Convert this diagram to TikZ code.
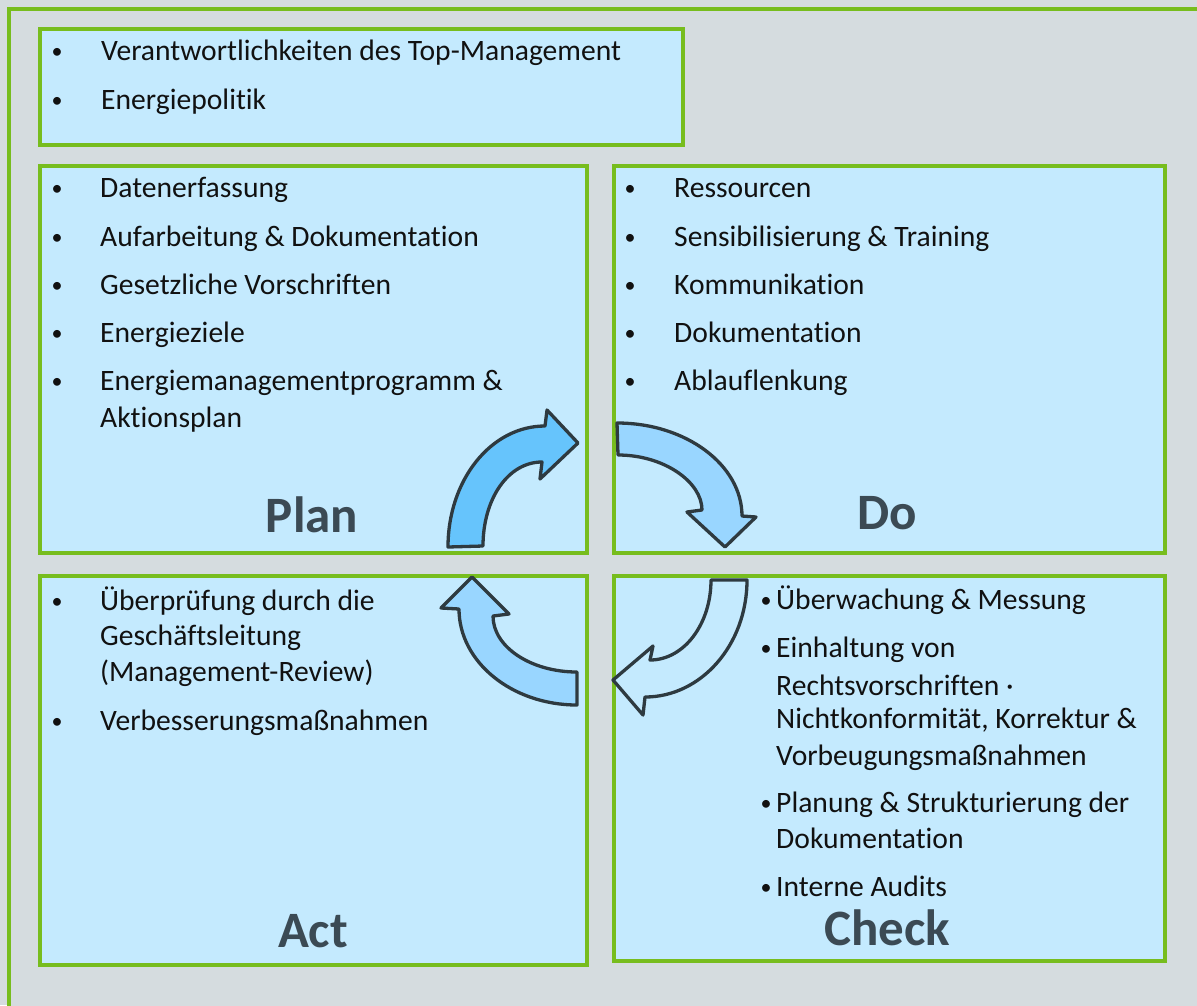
\documentclass[tikz,border=0pt]{standalone}
\usepackage{fontspec}
\setmainfont{Carlito}[Ligatures=NoCommon]
\definecolor{bggrey}{HTML}{D5DCDF}
\definecolor{boxgreen}{HTML}{77BD1E}
\definecolor{boxblue}{HTML}{C4EAFE}
\definecolor{arrowdark}{HTML}{66C4FC}
\definecolor{arrowlight}{HTML}{99D6FF}
\definecolor{arrowline}{HTML}{2E3A40}
\definecolor{headcol}{HTML}{3B4A54}
\definecolor{txtcol}{HTML}{111111}
\begin{document}
\begin{tikzpicture}[x=1pt,y=-1pt,
  panel/.style={draw=boxgreen, fill=boxblue, line width=4pt, anchor=north west, inner sep=0pt},
  itm/.style={anchor=base west, inner sep=0pt, text=txtcol, font=\fontsize{29.6}{34}\selectfont},
  bul/.style={anchor=base, inner sep=0pt, text=txtcol, font=\fontsize{22}{26}\selectfont},
  head/.style={anchor=base, inner sep=0pt, text=headcol, font=\fontsize{51}{60}\selectfont\bfseries},
  cyc/.style={draw=arrowline, line width=3.3pt, line join=round}]
\clip (0,0) rectangle (1197,1005);
\fill[bggrey] (0,0) rectangle (1197,1005);
\node (frame) [draw=boxgreen, fill=bggrey, line width=4pt, anchor=north west, inner sep=0pt, minimum width=1260pt, minimum height=1060pt] at (7,7) {};

% panels
\node (top)   [panel, minimum width=643pt, minimum height=116pt] at (38,27) {};
\node (plan)  [panel, minimum width=547pt, minimum height=387pt] at (38,164) {};
\node (do)    [panel, minimum width=551pt, minimum height=387pt] at (612,164) {};
\node (act)   [panel, minimum width=547pt, minimum height=389pt] at (38,574) {};
\node (check) [panel, minimum width=551pt, minimum height=385pt] at (612,574) {};

% top box
\node (tb1) [bul] at (57,58) {•};
\node (tt1) [itm] at (101,60) {Verantwortlichkeiten des Top-Management};
\node (tb2) [bul] at (57,107) {•};
\node (tt2) [itm] at (101,109) {Energiepolitik};

% plan
\node (pb1) [bul] at (57,195) {•};
\node (pt1) [itm] at (100,197) {Datenerfassung};
\node (pb2) [bul] at (57,244) {•};
\node (pt2) [itm] at (100,246) {Aufarbeitung \& Dokumentation};
\node (pb3) [bul] at (57,292) {•};
\node (pt3) [itm] at (100,294) {Gesetzliche Vorschriften};
\node (pb4) [bul] at (57,340) {•};
\node (pt4) [itm] at (100,342) {Energieziele};
\node (pb5) [bul] at (57,388) {•};
\node (pt5) [itm] at (100,390) {Energiemanagementprogramm \&};
\node (pt6) [itm] at (100,427) {Aktionsplan};
\node (plh) [head] at (312,532) {Plan};

% do
\node (db1) [bul] at (630,195) {•};
\node (dt1) [itm] at (674,197) {Ressourcen};
\node (db2) [bul] at (630,244) {•};
\node (dt2) [itm] at (674,246) {Sensibilisierung \& Training};
\node (db3) [bul] at (630,292) {•};
\node (dt3) [itm] at (674,294) {Kommunikation};
\node (db4) [bul] at (630,340) {•};
\node (dt4) [itm] at (674,342) {Dokumentation};
\node (db5) [bul] at (630,388) {•};
\node (dt5) [itm] at (674,390) {Ablauflenkung};
\node (doh) [head] at (887,529) {Do};

% act
\node (ab1) [bul] at (57,608) {•};
\node (at1) [itm] at (100,610) {Überprüfung durch die};
\node (at2) [itm] at (100,645) {Geschäftsleitung};
\node (at3) [itm] at (100,681) {(Management-Review)};
\node (ab2) [bul] at (57,728) {•};
\node (at4) [itm] at (100,730) {Verbesserungsmaßnahmen};
\node (ach) [head] at (313,947) {Act};

% check
\node (cb1) [bul] at (766,607) {•};
\node (ct1) [itm] at (776,609) {Überwachung \& Messung};
\node (cb2) [bul] at (766,655) {•};
\node (ct2) [itm] at (776,657) {Einhaltung von};
\node (ct3) [itm] at (776,695) {Rechtsvorschriften ·};
\node (ct4) [itm] at (776,728) {Nichtkonformität, Korrektur \&};
\node (ct5) [itm] at (776,765) {Vorbeugungsmaßnahmen};
\node (cb3) [bul] at (766,810) {•};
\node (ct6) [itm] at (776,812) {Planung \& Strukturierung der};
\node (ct7) [itm] at (776,848) {Dokumentation};
\node (cb4) [bul] at (766,894) {•};
\node (ct8) [itm] at (776,896) {Interne Audits};
\node (chh) [head] at (887,945) {Check};

% cycle arrows
\draw[cyc, fill=arrowdark] (448,547) .. controls (448,480) and (491,426) .. (545,426)
  -- (547,410) -- (578,443) -- (540,479) -- (542,462)
  .. controls (508,462) and (483,499) .. (483,546) -- cycle;
\draw[cyc, fill=arrowlight] (617,423) .. controls (686,423) and (742,465) .. (742,516)
  -- (756,517) -- (725,547) -- (687,512) -- (702,510)
  .. controls (702,482) and (664,455) .. (618,455) -- cycle;
\draw[cyc, fill=arrowlight] (577,672) .. controls (531,672) and (493,647) .. (493,616)
  -- (509,614) -- (472,577) -- (441,608) -- (459,609)
  .. controls (459,662) and (512,705) .. (577,705) -- cycle;
\draw[cyc, fill=boxblue] (711,580) -- (747,580) .. controls (747,645) and (701,697) .. (645,697)
  -- (643,715) -- (613,680) -- (653,646) -- (650,660)
  .. controls (684,660) and (711,624) .. (711,580) -- cycle;
\end{tikzpicture}
\end{document}
